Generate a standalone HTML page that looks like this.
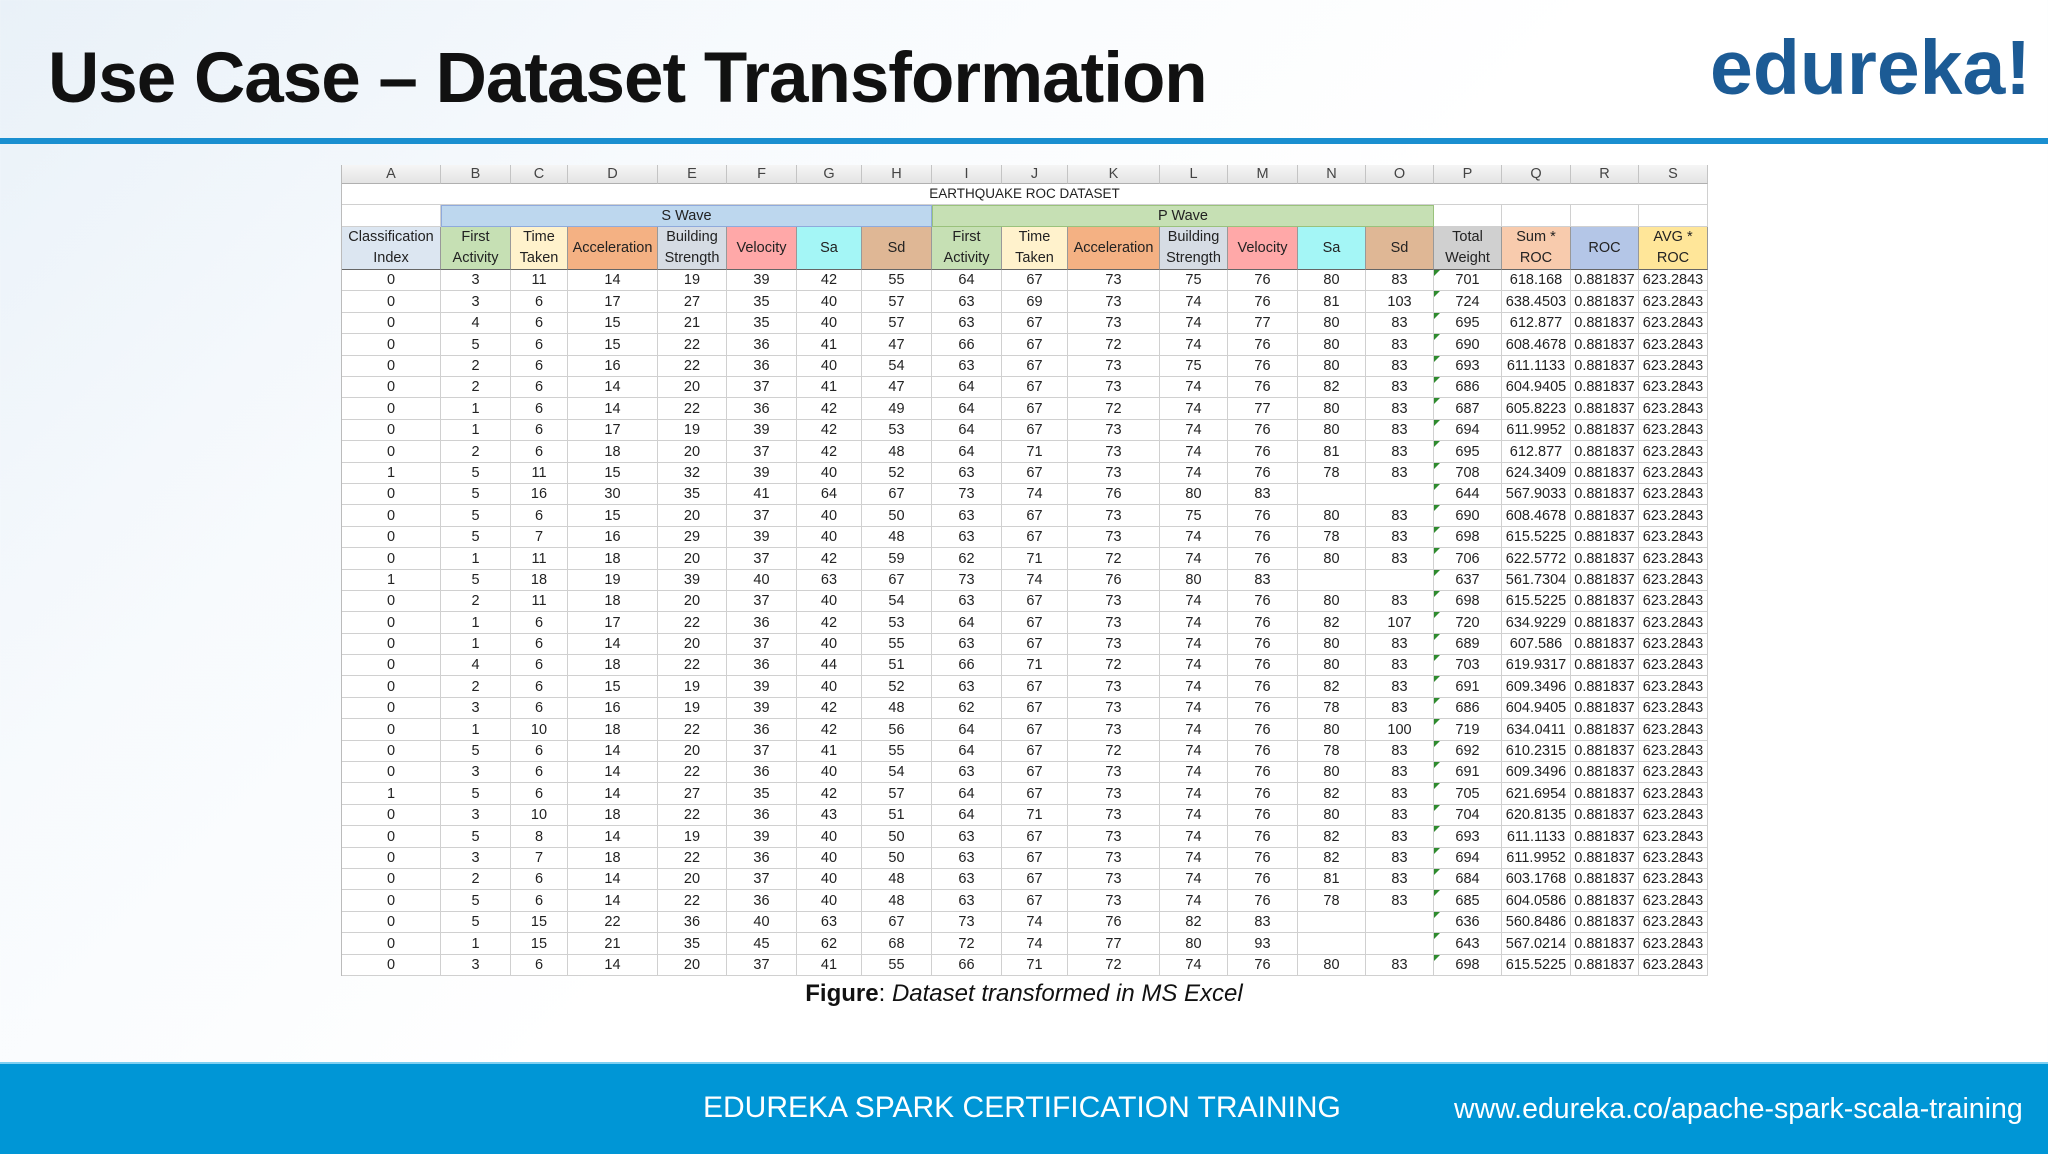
<!DOCTYPE html>
<html><head><meta charset="utf-8"><style>
html,body{margin:0;padding:0}
body{width:2048px;height:1152px;position:relative;overflow:hidden;font-family:"Liberation Sans",sans-serif;
background:linear-gradient(135deg,#e9f1f8 0%,#f7fafd 25%,#ffffff 50%,#ffffff 100%)}
.title{position:absolute;left:48px;top:38px;font-size:71px;font-weight:bold;color:#111;letter-spacing:-1px}
.logo{position:absolute;left:1710px;top:24px;font-size:77px;font-weight:bold;color:#1c5b95;letter-spacing:0px}
.rule{position:absolute;left:0;top:138px;width:2048px;height:6px;background:#1a8fd0}
#tbl{position:absolute;left:0;top:0}
.c{position:absolute;box-sizing:border-box;border-right:1px solid #d0d0d0;border-bottom:1px solid #d0d0d0;display:flex;align-items:center;justify-content:center;text-align:center;font-size:14.5px;color:#222;line-height:20px;white-space:nowrap}
.caption{position:absolute;left:0;width:2048px;top:980px;text-align:center;font-size:24px;color:#111}
.footer{position:absolute;left:0;top:1062px;width:2048px;height:90px;background:#0096d6;border-top:2px solid #7fd0f2}
.ft1{position:absolute;left:703px;top:27px;font-size:30px;color:#fff}
.ft2{position:absolute;left:1454px;top:29px;font-size:28.5px;color:#fff}
</style></head><body>
<div class="title">Use Case – Dataset Transformation</div>
<div class="logo">edureka!</div>
<div class="rule"></div>
<div id="tbl"></div>
<div class="caption"><b>Figure</b>: <i>Dataset transformed in MS Excel</i></div>
<div class="footer">
<div class="ft1">EDUREKA SPARK CERTIFICATION TRAINING</div>
<div class="ft2">www.edureka.co/apache-spark-scala-training</div>
</div>
<script>
const colLetters=["A","B","C","D","E","F","G","H","I","J","K","L","M","N","O","P","Q","R","S"];
const headers=["Classification<br>Index","First<br>Activity","Time<br>Taken","Acceleration","Building<br>Strength","Velocity","Sa","Sd","First<br>Activity","Time<br>Taken","Acceleration","Building<br>Strength","Velocity","Sa","Sd","Total<br>Weight","Sum *<br>ROC","ROC","AVG *<br>ROC"];
const headerColors=["#dce6f1","#c6e0b4","#fff2cc","#f4b183","#d6dce4","#ffa8a8","#a4f6f6","#dfb795","#c6e0b4","#fff2cc","#f4b183","#d6dce4","#ffa8a8","#a4f6f6","#dfb795","#d0d0d0","#f8cbad","#b4c6e7","#ffe699"];
const rows=[
[0,3,11,14,19,39,42,55,64,67,73,75,76,80,83,701,"618.168"],
[0,3,6,17,27,35,40,57,63,69,73,74,76,81,103,724,"638.4503"],
[0,4,6,15,21,35,40,57,63,67,73,74,77,80,83,695,"612.877"],
[0,5,6,15,22,36,41,47,66,67,72,74,76,80,83,690,"608.4678"],
[0,2,6,16,22,36,40,54,63,67,73,75,76,80,83,693,"611.1133"],
[0,2,6,14,20,37,41,47,64,67,73,74,76,82,83,686,"604.9405"],
[0,1,6,14,22,36,42,49,64,67,72,74,77,80,83,687,"605.8223"],
[0,1,6,17,19,39,42,53,64,67,73,74,76,80,83,694,"611.9952"],
[0,2,6,18,20,37,42,48,64,71,73,74,76,81,83,695,"612.877"],
[1,5,11,15,32,39,40,52,63,67,73,74,76,78,83,708,"624.3409"],
[0,5,16,30,35,41,64,67,73,74,76,80,83,"","",644,"567.9033"],
[0,5,6,15,20,37,40,50,63,67,73,75,76,80,83,690,"608.4678"],
[0,5,7,16,29,39,40,48,63,67,73,74,76,78,83,698,"615.5225"],
[0,1,11,18,20,37,42,59,62,71,72,74,76,80,83,706,"622.5772"],
[1,5,18,19,39,40,63,67,73,74,76,80,83,"","",637,"561.7304"],
[0,2,11,18,20,37,40,54,63,67,73,74,76,80,83,698,"615.5225"],
[0,1,6,17,22,36,42,53,64,67,73,74,76,82,107,720,"634.9229"],
[0,1,6,14,20,37,40,55,63,67,73,74,76,80,83,689,"607.586"],
[0,4,6,18,22,36,44,51,66,71,72,74,76,80,83,703,"619.9317"],
[0,2,6,15,19,39,40,52,63,67,73,74,76,82,83,691,"609.3496"],
[0,3,6,16,19,39,42,48,62,67,73,74,76,78,83,686,"604.9405"],
[0,1,10,18,22,36,42,56,64,67,73,74,76,80,100,719,"634.0411"],
[0,5,6,14,20,37,41,55,64,67,72,74,76,78,83,692,"610.2315"],
[0,3,6,14,22,36,40,54,63,67,73,74,76,80,83,691,"609.3496"],
[1,5,6,14,27,35,42,57,64,67,73,74,76,82,83,705,"621.6954"],
[0,3,10,18,22,36,43,51,64,71,73,74,76,80,83,704,"620.8135"],
[0,5,8,14,19,39,40,50,63,67,73,74,76,82,83,693,"611.1133"],
[0,3,7,18,22,36,40,50,63,67,73,74,76,82,83,694,"611.9952"],
[0,2,6,14,20,37,40,48,63,67,73,74,76,81,83,684,"603.1768"],
[0,5,6,14,22,36,40,48,63,67,73,74,76,78,83,685,"604.0586"],
[0,5,15,22,36,40,63,67,73,74,76,82,83,"","",636,"560.8486"],
[0,1,15,21,35,45,62,68,72,74,77,80,93,"","",643,"567.0214"],
[0,3,6,14,20,37,41,55,66,71,72,74,76,80,83,698,"615.5225"]];
const rocValue="0.881837";
const avgValue="623.2843";

const edges=[342,441,511,568,658,727,797,862,932,1002,1068,1160,1228,1298,1366,1434,1502,1571,1639,1708];
const T=document.getElementById('tbl');
function cell(x0,x1,y0,y1,html,bg,name,extra){
  const d=document.createElement('div');d.className='c';
  d.style.left=x0+'px';d.style.top=y0+'px';d.style.width=(x1-x0)+'px';d.style.height=(y1-y0)+'px';
  if(bg)d.style.background=bg;
  if(extra)Object.assign(d.style,extra);
  d.innerHTML=html;
  
  
  T.appendChild(d);return d;
}
colLetters.forEach((l,i)=>{
  cell(edges[i],edges[i+1],165,184,l,'linear-gradient(#f6f6f6,#e4e4e4)','column-letter',{color:'#444',borderRight:'1px solid #c4c4c4',borderBottom:'1px solid #b0b0b0'});
});
cell(342,1708,184,205,'EARTHQUAKE ROC DATASET','#fff','dataset-title-row',{fontSize:'13.5px'});
cell(342,441,205,227,'','#fff','blank-cell');
cell(441,932,205,227,'S Wave','#bdd7ee','s-wave-header',{border:'1px solid #8faadc'});
cell(932,1434,205,227,'P Wave','#c6e0b4','p-wave-header',{border:'1px solid #9ac27c'});
for(let i=15;i<19;i++)cell(edges[i],edges[i+1],205,227,'','#fff','blank-cell');
headers.forEach((h,i)=>{
  cell(edges[i],edges[i+1],227,270,h,headerColors[i],'column-header',{fontSize:'14.5px',lineHeight:'21px',borderRight:'1px solid #999',borderBottom:'1px solid #666'});
});
const rh=(976-270)/rows.length;
rows.forEach((r,ri)=>{
  const y0=Math.round(270+ri*rh),y1=Math.round(270+(ri+1)*rh);
  const vals=r.concat([rocValue,avgValue]);
  vals.forEach((v,ci)=>{
    const d=cell(edges[ci],edges[ci+1],y0,y1,String(v),'#fff','data-cell');
    if(ci===15){
      const t=document.createElement('div');
      t.style.cssText='position:absolute;left:0;top:0;width:0;height:0;border-top:6px solid #2e8b2e;border-right:6px solid transparent';
      
      
      d.appendChild(t);
    }
  });
});
cell(341,342,165,976,'','#bbb','table-left-border',{border:'none'});
</script>
</body></html>
